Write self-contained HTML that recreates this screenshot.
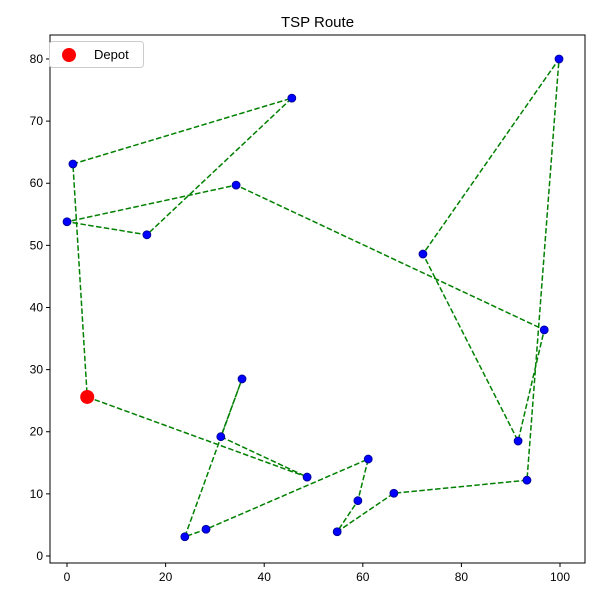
<!DOCTYPE html>
<html><head><meta charset="utf-8"><style>
body{margin:0;background:#fff;font-family:"Liberation Sans","DejaVu Sans",sans-serif}
</style></head><body>
<svg id="chart" width="600" height="600" xmlns="http://www.w3.org/2000/svg"></svg>
<script>
const routeX=[4.1,48.7,31.2,35.5,23.9,28.2,61.1,59.0,54.8,66.3,93.3,99.8,72.2,91.5,96.8,34.3,0.0,16.2,45.6,1.2,4.1];
const routeY=[25.6,12.7,19.2,28.5,3.1,4.3,15.6,8.9,3.9,10.1,12.2,80.0,48.6,18.5,36.4,59.7,53.8,51.7,73.7,63.1,25.6];
const depotX=[4.1], depotY=[25.6];
const xTicks=[0,20,40,60,80,100];
const yTicks=[0,10,20,30,40,50,60,70,80];
const L=50,R=585,T=35,B=563,xmin=-3.45,xmax=105.07,ymin=-1.13,ymax=83.86;
const sx=v=>L+(v-xmin)/(xmax-xmin)*(R-L);
const sy=v=>B-(v-ymin)/(ymax-ymin)*(B-T);
const NS="http://www.w3.org/2000/svg",svg=document.getElementById('chart');
function mk(t,a,p){const e=document.createElementNS(NS,t);for(const k in a)e.setAttribute(k,a[k]);(p||svg).appendChild(e);return e;}
const title=mk('text',{x:(L+R)/2,y:27,'text-anchor':'middle','font-size':15,fill:'#000'});title.textContent='TSP Route';


xTicks.forEach(v=>{const x=sx(v);
 const t=mk('line',{x1:x,x2:x,y1:B,y2:B+4,stroke:'#000'});
 
 
 const l=mk('text',{x:x,y:B+18,'text-anchor':'middle','font-size':12});l.textContent=v;
 
 });
yTicks.forEach(v=>{const y=sy(v);
 const t=mk('line',{x1:L-4,x2:L,y1:y,y2:y,stroke:'#000'});
 
 
 const l=mk('text',{x:L-7,y:y+4,'text-anchor':'end','font-size':12});l.textContent=v;
 
 });
let d='';routeX.forEach((v,i)=>{d+=(i?'L':'M')+sx(v)+','+sy(routeY[i]);});
const path=mk('path',{d:d,fill:'none',stroke:'#008000','stroke-width':1.5,'stroke-dasharray':'5.5,2.4'});


routeX.forEach((v,i)=>{const c=mk('circle',{cx:sx(v),cy:sy(routeY[i]),r:4,fill:'#0000ff',stroke:'#00008b','stroke-width':0.8});
 
 });
depotX.forEach((v,i)=>{const c=mk('circle',{cx:sx(v),cy:sy(depotY[i]),r:7,fill:'#ff0000'});
 
 });
const frame=mk('rect',{x:L,y:T,width:R-L,height:B-T,fill:'none',stroke:'#000','stroke-width':1});


const lg=mk('g',{});


mk('rect',{x:49.5,y:41.5,width:94,height:26,rx:3,fill:'#fff',stroke:'#ccc'},lg);
mk('circle',{cx:69,cy:55,r:7,fill:'#ff0000'},lg);
const lt=mk('text',{x:94,y:59,'font-size':13},lg);lt.textContent='Depot';


</script>
</body></html>
